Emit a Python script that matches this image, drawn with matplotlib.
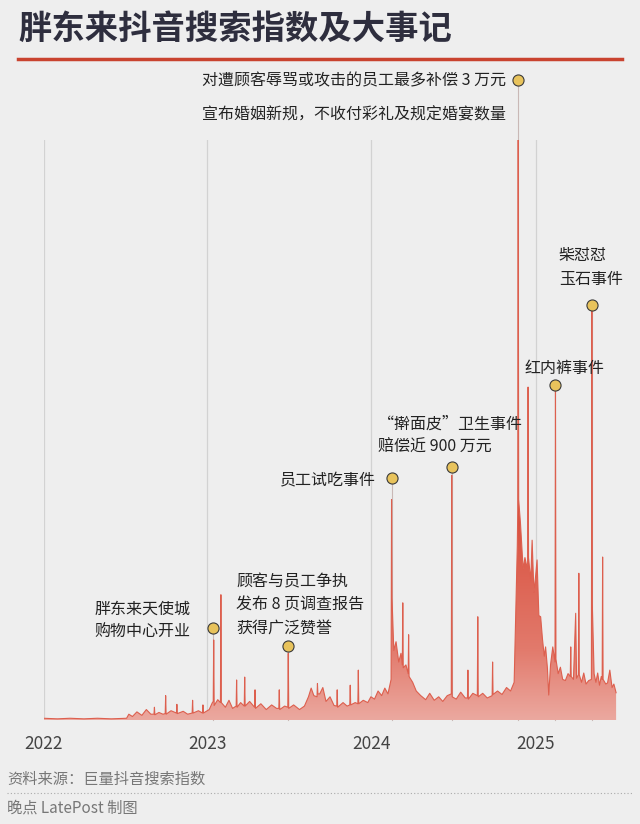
import matplotlib
matplotlib.use("Agg")
import matplotlib.pyplot as plt
import matplotlib.dates as mdates
from matplotlib.lines import Line2D
from matplotlib.colors import LinearSegmentedColormap
import numpy as np
import pandas as pd

plt.rcParams['font.family'] = ['Noto Sans CJK SC', 'DejaVu Sans']

# 搜索指数（读图估计，最高点=100）
days = [
    "2022-01-01", "2022-02-01", "2022-03-01", "2022-04-01", "2022-05-01", "2022-06-01", "2022-07-05",
    "2022-07-10", "2022-07-18", "2022-07-28", "2022-08-08", "2022-08-18", "2022-08-28",
    "2022-09-04", "2022-09-05", "2022-09-06", "2022-09-15", "2022-09-24", "2022-09-29", "2022-09-30",
    "2022-10-01", "2022-10-12", "2022-10-24", "2022-10-25", "2022-10-26", "2022-11-08", "2022-11-18",
    "2022-11-28", "2022-11-29", "2022-11-30", "2022-12-12", "2022-12-21", "2022-12-22", "2022-12-23",
    "2023-01-05",
    "2023-01-12", "2023-01-14", "2023-01-15", "2023-01-16", "2023-01-24", "2023-01-30", "2023-01-31",
    "2023-02-01", "2023-02-10", "2023-02-18", "2023-02-26", "2023-03-06", "2023-03-07", "2023-03-08",
    "2023-03-16", "2023-03-24", "2023-03-25", "2023-03-26", "2023-04-05", "2023-04-16", "2023-04-17",
    "2023-04-18", "2023-04-30", "2023-05-12", "2023-05-24", "2023-06-04", "2023-06-09", "2023-06-10",
    "2023-06-11", "2023-06-22", "2023-06-29", "2023-06-30", "2023-07-01", "2023-07-12", "2023-07-25",
    "2023-08-05", "2023-08-14", "2023-08-20", "2023-08-26", "2023-09-02", "2023-09-03", "2023-09-04",
    "2023-09-08", "2023-09-15", "2023-09-22", "2023-10-01", "2023-10-10", "2023-10-16", "2023-10-17",
    "2023-10-18", "2023-10-30", "2023-11-08", "2023-11-14", "2023-11-15", "2023-11-16", "2023-11-26",
    "2023-12-02", "2023-12-03", "2023-12-04", "2023-12-14", "2023-12-24", "2023-12-31",
    "2024-01-08", "2024-01-16", "2024-01-24", "2024-01-31", "2024-02-07", "2024-02-14", "2024-02-15",
    "2024-02-16", "2024-02-20", "2024-02-25", "2024-03-02", "2024-03-07", "2024-03-10", "2024-03-11",
    "2024-03-12", "2024-03-18", "2024-03-23", "2024-03-24", "2024-03-25", "2024-04-02", "2024-04-10",
    "2024-04-20", "2024-05-01", "2024-05-10", "2024-05-20", "2024-05-30", "2024-06-08", "2024-06-18",
    "2024-06-27", "2024-06-28", "2024-06-29", "2024-07-08", "2024-07-18", "2024-07-28", "2024-08-02",
    "2024-08-03", "2024-08-04", "2024-08-14", "2024-08-24", "2024-08-25", "2024-08-26", "2024-09-05",
    "2024-09-15", "2024-09-26", "2024-09-27", "2024-09-28", "2024-10-08", "2024-10-18", "2024-10-28",
    "2024-11-06", "2024-11-14", "2024-11-18", "2024-11-21", "2024-11-22", "2024-11-23", "2024-11-24",
    "2024-11-26", "2024-11-28", "2024-12-01", "2024-12-04", "2024-12-08", "2024-12-12", "2024-12-14",
    "2024-12-15", "2024-12-16", "2024-12-21", "2024-12-24", "2024-12-28",
    "2025-01-01", "2025-01-04", "2025-01-08", "2025-01-12", "2025-01-16", "2025-01-20", "2025-01-23",
    "2025-01-27", "2025-01-30", "2025-02-03", "2025-02-08", "2025-02-13", "2025-02-14", "2025-02-15",
    "2025-02-20", "2025-02-25", "2025-03-02", "2025-03-08", "2025-03-14", "2025-03-19", "2025-03-20",
    "2025-03-21", "2025-03-26", "2025-03-31", "2025-04-02", "2025-04-06", "2025-04-07", "2025-04-08",
    "2025-04-13", "2025-04-18", "2025-04-23", "2025-04-29", "2025-05-05", "2025-05-06", "2025-05-07",
    "2025-05-11", "2025-05-15", "2025-05-19", "2025-05-23", "2025-05-27", "2025-05-29", "2025-05-30",
    "2025-05-31", "2025-06-06", "2025-06-10", "2025-06-15", "2025-06-20", "2025-06-24", "2025-06-29",
]
index = [
    0.3, 0.2, 0.3, 0.2, 0.3, 0.2, 0.3,
    1.0, 0.6, 1.4, 0.8, 1.8, 1.0,
    1.0, 2.2, 0.9, 1.3, 1.0, 1.1, 4.2,
    1.0, 1.6, 1.2, 2.7, 1.1, 1.5, 1.0,
    1.2, 3.4, 1.2, 1.6, 1.2, 2.6, 1.2,
    1.8,
    3.0, 3.2, 13.8, 2.5, 3.5, 3.0, 21.6,
    3.0, 2.2, 3.4, 2.0, 2.4, 6.9, 2.2,
    3.0, 2.4, 7.4, 2.4, 3.2, 2.2, 5.2,
    2.0, 2.8, 1.8, 2.6, 2.0, 2.0, 5.2,
    1.8, 2.4, 2.2, 11.5, 2.0, 2.6, 1.8,
    2.4, 4.0, 5.5, 4.2, 4.0, 6.3, 4.5,
    4.5, 5.6, 3.2, 4.0, 2.5, 2.4, 5.2,
    2.2, 3.0, 2.4, 2.6, 6.0, 2.6, 3.0,
    2.8, 8.6, 2.8, 3.4, 3.0, 4.0,
    3.6, 5.0, 4.2, 5.5, 4.5, 7.0, 38.0,
    21.0, 12.0, 13.5, 10.0, 11.5, 9.5, 20.2,
    9.0, 9.5, 8.0, 14.7, 7.5, 6.5, 5.0,
    4.2, 3.5, 4.6, 3.4, 4.0, 3.2, 4.2,
    4.5, 42.2, 4.0, 3.6, 4.8, 3.8, 3.8,
    8.6, 3.6, 4.6, 4.2, 17.8, 4.0, 4.6,
    3.8, 4.2, 10.0, 4.4, 5.0, 4.4, 5.6,
    5.0, 6.5, 20.0, 30.0, 36.0, 100.0, 38.0,
    36.0, 34.0, 30.0, 26.0, 28.0, 26.5, 27.0,
    57.4, 28.0, 24.0, 31.0, 22.0,
    25.0, 27.6, 18.0, 17.8, 14.0, 11.0, 12.6,
    9.0, 4.3, 9.5, 12.6, 10.0, 57.0, 10.5,
    8.0, 9.1, 7.0, 6.8, 8.0, 7.5, 12.6,
    7.5, 7.0, 18.4, 7.2, 7.8, 25.3, 7.8,
    6.5, 8.1, 6.2, 6.8, 7.0, 70.7, 20.0,
    8.0, 6.5, 8.1, 6.0, 7.5, 7.0, 28.1,
    7.0, 6.2, 6.4, 8.6, 5.6, 6.2, 4.7,
]

# 大事记
event_days = ["2023-01-14", "2023-06-30", "2024-02-16", "2024-06-29", "2024-11-23", "2025-02-14", "2025-05-06"]
event_level = [15.9, 12.8, 41.7, 43.6, 110.3, 57.8, 71.6]
event_text = [
    ["胖东来天使城", "购物中心开业"],
    ["顾客与员工争执", "发布 8 页调查报告", "获得广泛赞誉"],
    ["员工试吃事件"],
    ["“擀面皮”卫生事件", "赔偿近 900 万元"],
    ["对遭顾客辱骂或攻击的员工最多补偿 3 万元", "宣布婚姻新规，不收付彩礼及规定婚宴数量"],
    ["红内裤事件"],
    ["柴怼怼", "玉石事件"],
]
# 文字相对圆点的位置（像素）：x偏移, 第一行y偏移, 行距, 对齐
text_pos = [
    (-23, 19, 23, "right"),
    (-52, 64, 23.5, "left"),
    (-16, -3, 0, "right"),
    (-74, 43, 23, "left"),
    (-12, -1, 34, "right"),
    (9, 16, 0, "center"),
    (-33, 49, 24, "left"),
]
years = ["2022", "2023", "2024", "2025"]

bg = "#eeeeee"
fig = plt.figure(figsize=(6.4, 8.24), dpi=100, facecolor=bg)
W, H = 640, 824
ax = fig.add_axes([43.5 / W, 1 - 720 / H, (617 - 43.5) / W, (720 - 140) / H])
ax.set_facecolor(bg)

x = pd.to_datetime(days)
xn = mdates.date2num(x)
y = np.array(index)

x0 = mdates.date2num(pd.Timestamp("2022-01-01"))
x1 = mdates.date2num(pd.Timestamp("2025-07-01"))

poly = ax.fill_between(xn, y, 0, color="none", lw=0)
cmap = LinearSegmentedColormap.from_list("red", [(0, "#eba89f"), (0.12, "#e27a6c"), (0.35, "#d9503e"), (1, "#d4432f")])
grad = np.linspace(0, 1, 256).reshape(-1, 1)
im = ax.imshow(grad, aspect="auto", extent=[x0, x1, 0, 100], origin="lower", cmap=cmap, zorder=2)
im.set_clip_path(poly.get_paths()[0], ax.transData)
ax.plot(xn, y, color="#dd5f4e", lw=0.8, zorder=2.5)

ax.set_xlim(x0, x1)
ax.set_ylim(0, 100)

ticks = [mdates.date2num(pd.Timestamp(yr + "-01-01")) for yr in years]
ax.set_xticks(ticks)
ax.set_xticklabels(years, fontsize=12.5, color="#444444")
ax.tick_params(axis="x", length=0, pad=11)
ax.set_yticks([])
for s in ax.spines.values():
    s.set_visible(False)
for t in ticks:
    ax.axvline(t, color="#d2d2d2", lw=0.9, zorder=1)

for d, lv, lines, (dx, dy, ls, ha) in zip(event_days, event_level, event_text, text_pos):
    ex = mdates.date2num(pd.Timestamp(d))
    ax.plot([ex, ex], [0, lv], color="#c9b8b6", lw=0.8, zorder=1.5, clip_on=False)
    ax.plot(ex, lv, "o", ms=8, mfc="#e8c35c", mec="#3a3a3a", mew=0.8, zorder=5, clip_on=False)
    for i, line in enumerate(lines):
        ax.annotate(line, xy=(ex, lv), xytext=(dx, dy - i * ls), textcoords="offset pixels",
                    ha=ha, va="center", fontsize=11.5, color="#222222", annotation_clip=False, zorder=6)

fig.text(18 / W, 1 - 29 / H, "胖东来抖音搜索指数及大事记", fontsize=24, fontweight="bold",
         color="#2e2e3e", va="center", ha="left")
fig.add_artist(Line2D([18 / W, 622 / W], [1 - 59 / H] * 2, color="#c9432f", lw=2.5))

fig.text(7 / W, 1 - 779 / H, "资料来源：巨量抖音搜索指数", fontsize=11, color="#777777", va="center")
fig.add_artist(Line2D([7 / W, 632 / W], [1 - 793 / H] * 2, color="#aaaaaa", lw=0.8, ls=(0, (1, 2))))
fig.text(7 / W, 1 - 808 / H, "晚点 LatePost 制图", fontsize=11, color="#777777", va="center")

fig.savefig("out.png", dpi=100, facecolor=bg)
